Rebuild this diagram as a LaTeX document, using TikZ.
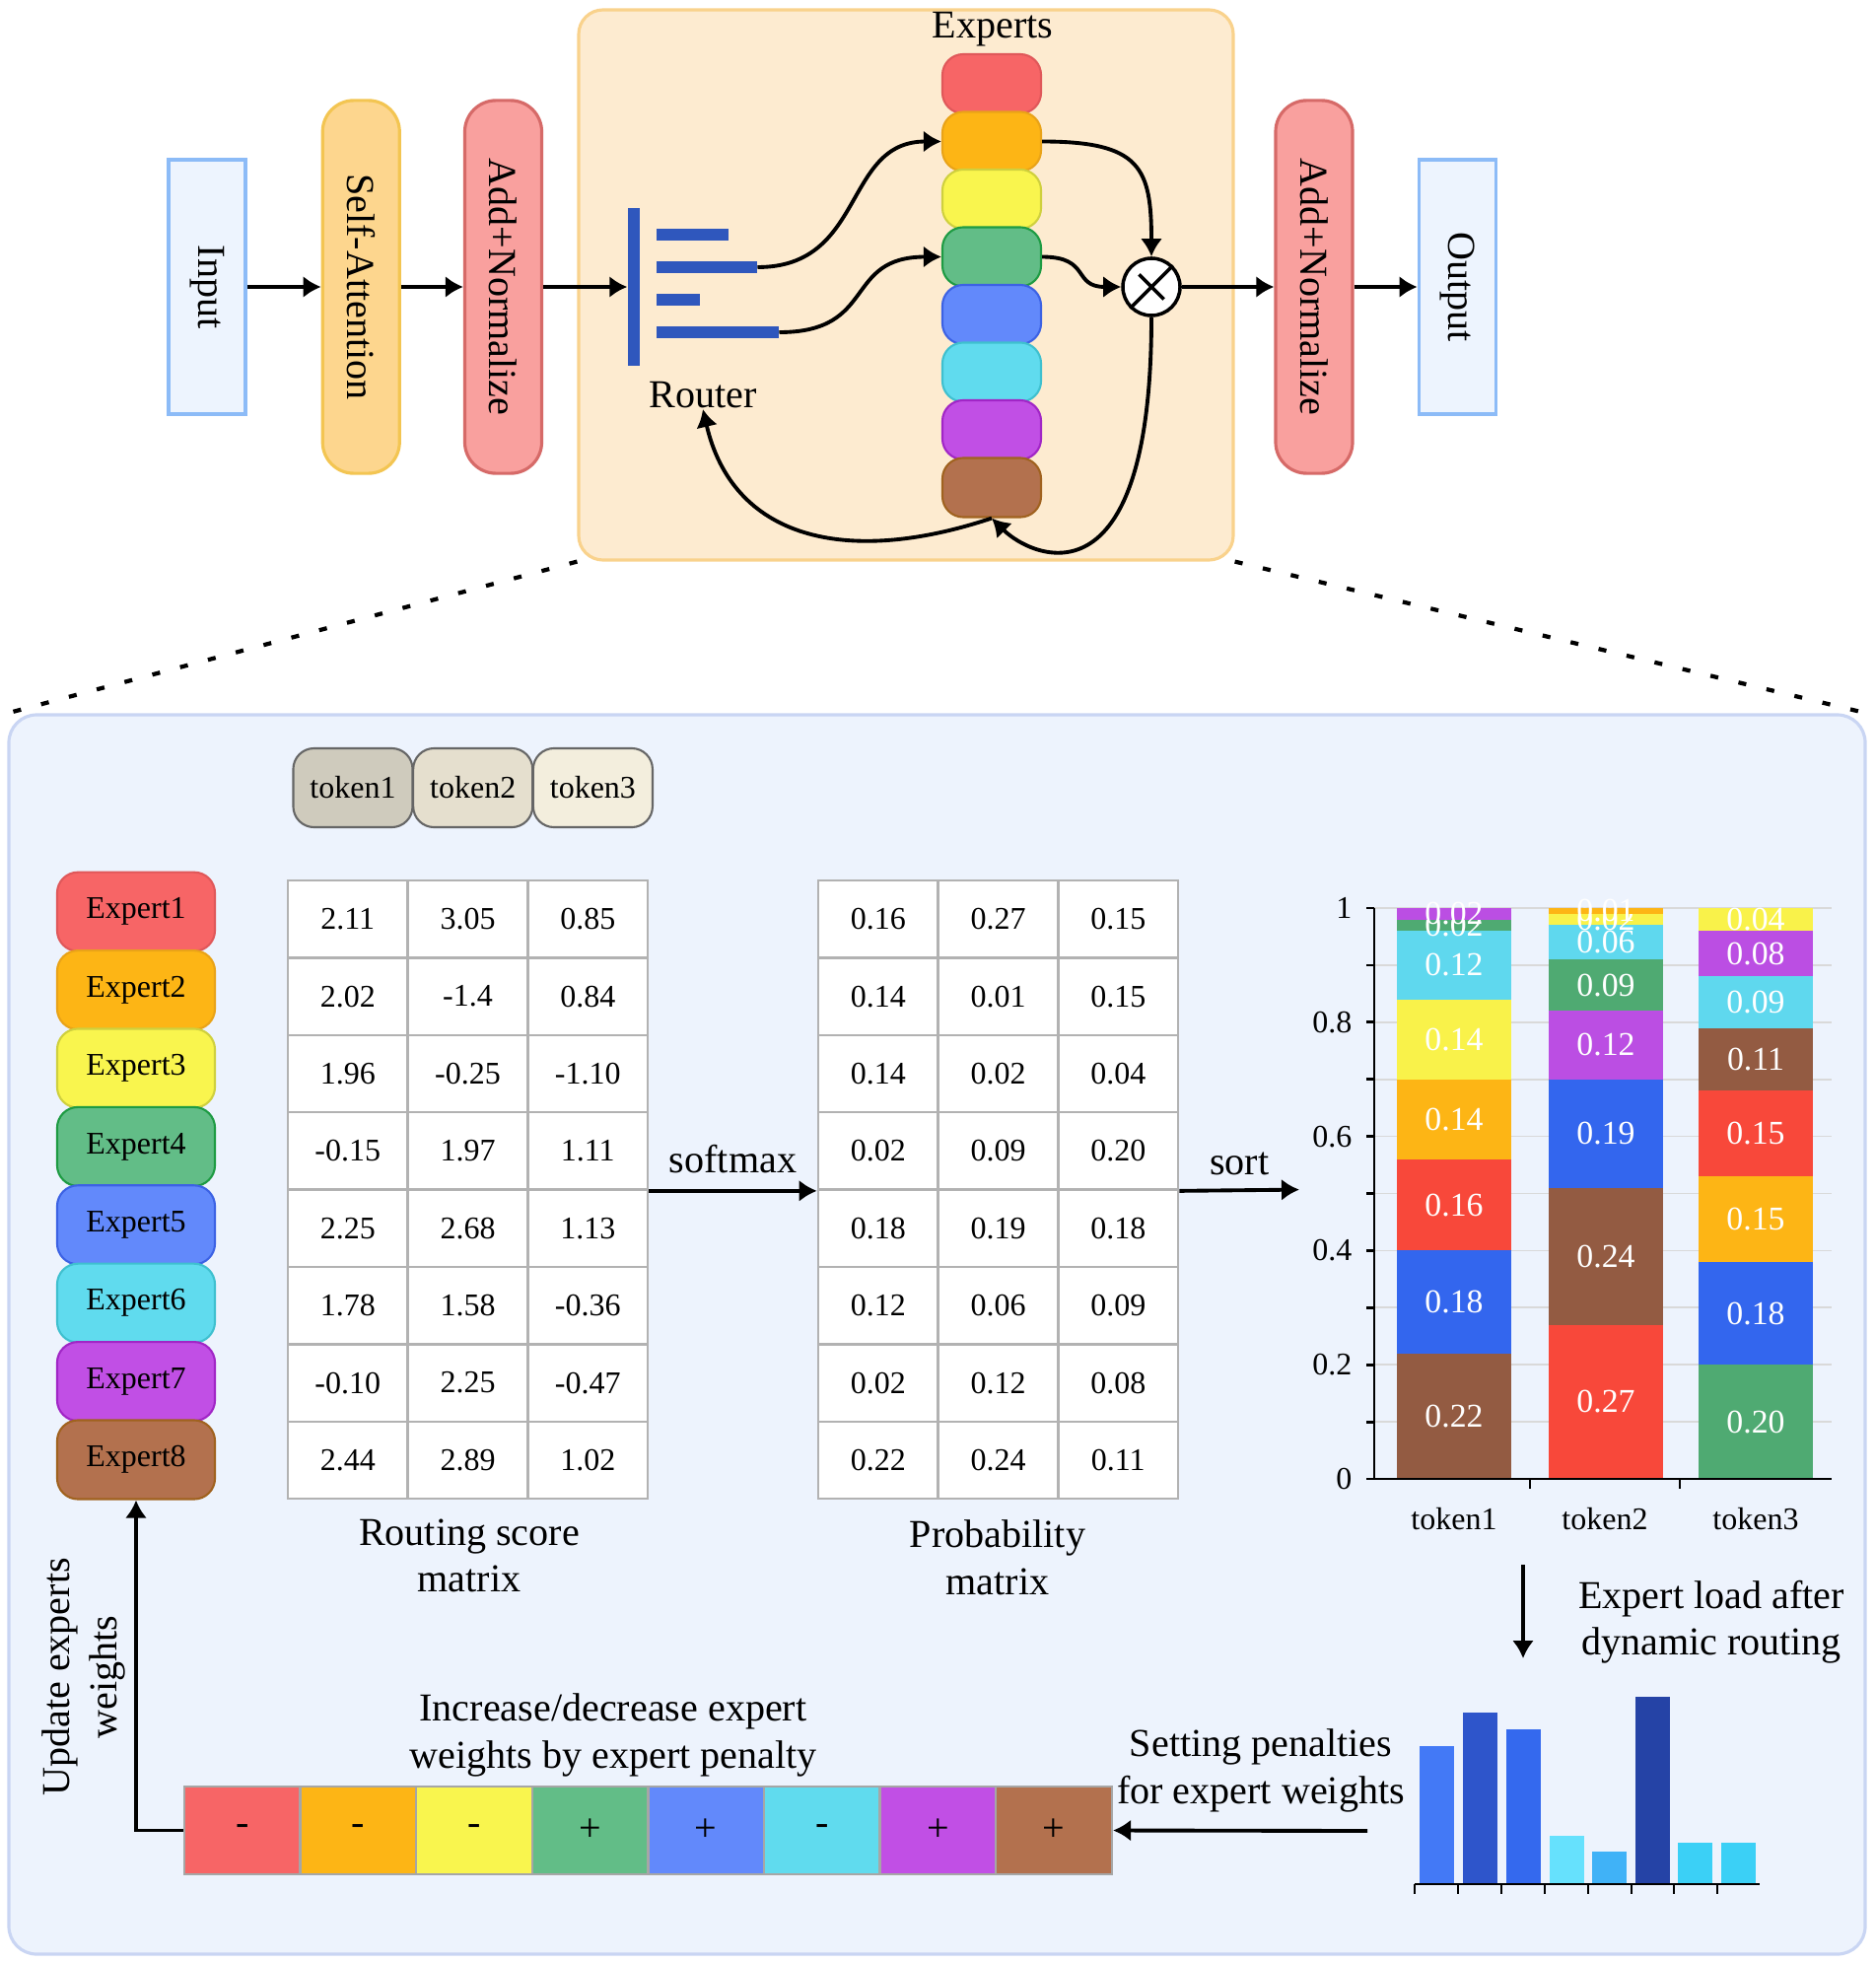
\documentclass[tikz,border=0pt]{standalone}
\usepackage{fontspec}
\setmainfont{Liberation Serif}
\usepackage{xcolor}
\usepackage{tikz}
\usetikzlibrary{arrows.meta, positioning, fit}

\definecolor{inblue}{HTML}{EDF4FE}
\definecolor{inedge}{HTML}{8CBBF7}
\definecolor{safill}{HTML}{FDD68E}
\definecolor{saedge}{HTML}{F3C552}
\definecolor{anfill}{HTML}{F9A09E}
\definecolor{anedge}{HTML}{D66A68}
\definecolor{moefill}{HTML}{FDEBD0}
\definecolor{moeedge}{HTML}{F9D28C}
\definecolor{panelfill}{HTML}{EDF3FD}
\definecolor{paneledge}{HTML}{C9D5F3}
\definecolor{routerblue}{HTML}{2F57BD}
\definecolor{gridgray}{HTML}{D9D9D9}
% expert colours
\definecolor{ex1}{HTML}{F76566} \definecolor{exline1}{HTML}{E0585A}
\definecolor{ex2}{HTML}{FDB515} \definecolor{exline2}{HTML}{E9A318}
\definecolor{ex3}{HTML}{F9F54E} \definecolor{exline3}{HTML}{CFD03E}
\definecolor{ex4}{HTML}{62BD87} \definecolor{exline4}{HTML}{1E9B43}
\definecolor{ex5}{HTML}{6289FB} \definecolor{exline5}{HTML}{3C62E4}
\definecolor{ex6}{HTML}{60DBEE} \definecolor{exline6}{HTML}{3FC0CF}
\definecolor{ex7}{HTML}{C14FE5} \definecolor{exline7}{HTML}{A126C6}
\definecolor{ex8}{HTML}{B3714E} \definecolor{exline8}{HTML}{A0621F}
% chart colours
\definecolor{cbrown}{HTML}{935B42}
\definecolor{cblue}{HTML}{3366EE}
\definecolor{cred}{HTML}{F8483A}
\definecolor{corange}{HTML}{FDB515}
\definecolor{cyellow}{HTML}{F9F24A}
\definecolor{ccyan}{HTML}{5FD8EE}
\definecolor{cgreen}{HTML}{4FAA72}
\definecolor{cpurple}{HTML}{BB4EE3}
\definecolor{lb1}{HTML}{4379F6}
\definecolor{lb2}{HTML}{2E55CB}
\definecolor{lb3}{HTML}{3469EE}
\definecolor{lb4}{HTML}{66E1FD}
\definecolor{lb5}{HTML}{40B2F7}
\definecolor{lb6}{HTML}{2543A6}
\definecolor{lb7}{HTML}{3BD0F6}
\definecolor{tok1}{HTML}{CFCBBD}
\definecolor{tok2}{HTML}{E5DFCE}
\definecolor{tok3}{HTML}{F3EEDD}

\tikzset{
    base/.style={font=\fontsize{11.4}{13.5}\selectfont, align=center, inner sep=0pt},
    smalltext/.style={font=\fontsize{9.1}{11}\selectfont, align=center, inner sep=0pt},
    flowbox/.style={base, rectangle, line width=0.9pt, minimum width=0.78cm},
    inout/.style={flowbox, fill=inblue, draw=inedge, minimum height=2.58cm},
    sabox/.style={flowbox, rounded corners=9pt, fill=safill, draw=saedge, minimum height=3.78cm},
    anbox/.style={flowbox, rounded corners=9pt, fill=anfill, draw=anedge, minimum height=3.78cm},
    moebox/.style={rectangle, rounded corners=7pt, fill=moefill, draw=moeedge, line width=0.9pt, inner sep=0pt},
    panel/.style={rectangle, rounded corners=8pt, fill=panelfill, draw=paneledge, line width=0.9pt, inner sep=0pt},
    rbar/.style={rectangle, fill=routerblue, inner sep=0pt, minimum height=0.12cm},
    expert/.style={smalltext, rectangle, rounded corners=6pt, line width=0.6pt},
    token/.style={smalltext, rectangle, rounded corners=6pt, draw=gray!80!black, line width=0.6pt, minimum width=1.21cm, minimum height=0.8cm},
    cell/.style={smalltext, draw=gray!60, fill=white, line width=0.7pt, minimum width=1.217cm, minimum height=0.784cm},
    pencell/.style={base, draw=gray!70, line width=0.7pt, minimum width=1.176cm, minimum height=0.89cm},
    mulnode/.style={circle, draw=black, line width=1pt, fill=white, minimum size=0.58cm, inner sep=0pt},
    line/.style={draw=black, line width=1.1pt, -{Latex[length=1.8mm, width=2.2mm]}},
    zoom-line/.style={draw=black, line width=1.2pt, dash pattern=on 2.3pt off 6pt},
    axisline/.style={draw=black, line width=0.8pt},
    gridline/.style={draw=gridgray, line width=0.5pt}
}

\begin{document}
\begin{tikzpicture}[x=0.01cm, y=-0.01cm]
    \useasboundingbox (0,0) rectangle (1902,1991);

    % backgrounds
    \node [panel, fit={(9,725) (1892,1982)}] (panel) {};
    \node [moebox, fit={(587,10) (1251,568)}] (moe) {};
    \draw [zoom-line] (moe.south west) -- (panel.north west);
    \draw [zoom-line] (moe.south east) -- (panel.north east);

    % transformer block
    \node [inout] (in) at (210,291) {\rotatebox{-90}{Input}};
    \node [sabox, right=0.75cm of in] (sa) {\rotatebox{-90}{Self-Attention}};
    \node [anbox, right=0.63cm of sa] (an1) {\rotatebox{-90}{Add+Normalize}};

    % router
    \node [rbar, minimum width=0.12cm, minimum height=1.59cm] (rvert) at (643,291) {};
    \node [rbar, anchor=west, minimum width=0.73cm] (rb1) at (665,238) {};
    \node [rbar, anchor=west, minimum width=1.02cm] (rb2) at (665,271) {};
    \node [rbar, anchor=west, minimum width=0.44cm] (rb3) at (665,304) {};
    \node [rbar, anchor=west, minimum width=1.24cm] (rb4) at (665,337) {};
    \node [base] (rlabel) at (713,401) {Router};

    % experts
    \node [base] (explabel) at (1007,30) {Experts};
    \foreach \k in {1,...,8}
        \node [expert, fill=ex\k, draw=exline\k, minimum width=1cm, minimum height=0.6cm] (e\k) at (1006,{85+58.5*(\k-1)}) {};
    \node [mulnode] (mul) at (1168,291) {};
    \draw [line width=1pt, shorten <=0.13cm, shorten >=0.13cm] (mul.45) -- (mul.225) (mul.135) -- (mul.315);

    \node [anbox] (an2) at (1333,291) {\rotatebox{-90}{Add+Normalize}};
    \node [inout, right=0.64cm of an2] (out) {\rotatebox{-90}{Output}};

    \draw [line] (in.east) -- (sa.west);
    \draw [line] (sa.east) -- (an1.west);
    \draw [line] (an1.east) -- (rvert.west);
    \draw [line] (rb2.east) .. controls +(110,0) and +(-100,0) .. (e2.west);
    \draw [line] (rb4.east) .. controls +(100,0) and +(-100,0) .. (e4.west);
    \draw [line] (e2.east) .. controls +(100,0) and +(0,-90) .. (mul.north);
    \draw [line] (e4.east) .. controls +(50,0) and +(-50,0) .. (mul.west);
    \draw [line] (mul.east) -- (an2.west);
    \draw [line] (an2.east) -- (out.west);
    \draw [line] (mul.south) .. controls +(0,300) and +(40,40) .. (e8.south);
    \draw [line] (e8.south) .. controls +(-150,50) and +(30,130) .. (rlabel.south);

    % tokens, experts and the two matrices
    \foreach \t in {1,2,3}
        \node [token, fill=tok\t] (tk\t) at ({358+121.7*(\t-1)},799) {token\t};
    \foreach \r/\ra/\rb/\rc/\pa/\pb/\pc in {
        1/2.11/3.05/0.85/0.16/0.27/0.15,
        2/2.02/-1.4/0.84/0.14/0.01/0.15,
        3/1.96/-0.25/-1.10/0.14/0.02/0.04,
        4/-0.15/1.97/1.11/0.02/0.09/0.20,
        5/2.25/2.68/1.13/0.18/0.19/0.18,
        6/1.78/1.58/-0.36/0.12/0.06/0.09,
        7/-0.10/2.25/-0.47/0.02/0.12/0.08,
        8/2.44/2.89/1.02/0.22/0.24/0.11}{
        \node [expert, fill=ex\r, draw=exline\r, minimum width=1.6cm, minimum height=0.8cm] (el\r) at (138,{924.7+79.4*(\r-1)}) {Expert\r};
        \node [cell] (rs\r-1) at (352.8,{932.2+78.4*(\r-1)}) {\ra};
        \node [cell] (rs\r-2) at (474.5,{932.2+78.4*(\r-1)}) {\rb};
        \node [cell] (rs\r-3) at (596.3,{932.2+78.4*(\r-1)}) {\rc};
        \node [cell] (pm\r-1) at (890.8,{932.2+78.4*(\r-1)}) {\pa};
        \node [cell] (pm\r-2) at (1012.5,{932.2+78.4*(\r-1)}) {\pb};
        \node [cell] (pm\r-3) at (1134.3,{932.2+78.4*(\r-1)}) {\pc};
    }
    \node [base] (rslabel) at (476,1578) {Routing score\\matrix};
    \node [base] (pmlabel) at (1012,1580) {Probability\\matrix};

    \coordinate (sortend) at (1318,1206.6);
    \draw [line] (rs4-3.south east) -- node [base, above=0.16cm] (smlabel) {softmax} (pm4-1.south west);
    \draw [line] (pm4-3.south east) -- node [base, above=0.13cm] (sortlabel) {sort} (sortend);

    % stacked chart
    \foreach \g in {1,...,10}
        \draw [gridline] (1394,{1500-57.9*\g}) -- (1858,{1500-57.9*\g});
    \foreach \xa/\vals [count=\t] in {
        1417/{cbrown/0/0.22, cblue/0.22/0.18, cred/0.40/0.16, corange/0.56/0.14, cyellow/0.70/0.14, ccyan/0.84/0.12, cgreen/0.96/0.02, cpurple/0.98/0.02},
        1571/{cred/0/0.27, cbrown/0.27/0.24, cblue/0.51/0.19, cpurple/0.70/0.12, cgreen/0.82/0.09, ccyan/0.91/0.06, cyellow/0.97/0.02, corange/0.99/0.01},
        1723/{cgreen/0/0.20, cblue/0.20/0.18, corange/0.38/0.15, cred/0.53/0.15, cbrown/0.68/0.11, ccyan/0.79/0.09, cpurple/0.88/0.08, cyellow/0.96/0.04}}{
        \foreach \c/\b/\v [count=\i] in \vals {
            \fill [\c] (\xa,{1500-579*\b}) rectangle ({\xa+116},{1500-579*(\b+\v)});
            \node [smalltext, text=white, font=\fontsize{9.6}{11}\selectfont] (bv\t-\i) at ({\xa+58},{1500-579*(\b+\v/2)}) {\v};
        }
    }
    \draw [axisline] (1394,921) -- (1394,1500);
    \draw [axisline] (1386,1500) -- (1858,1500);
    \foreach \g in {1,...,10}
        \draw [axisline] (1386,{1500-57.9*\g}) -- (1394,{1500-57.9*\g});
    \foreach \tx in {1552,1704}
        \draw [axisline] (\tx,1500) -- (\tx,1510);
    \foreach \g [count=\i] in {0,0.2,0.4,0.6,0.8,1}
        \node [smalltext, anchor=east] (yt\i) at (1372,{1500-579*\g}) {\g};
    \foreach \tx [count=\i] in {1475,1628,1781}
        \node [smalltext] (ct\i) at (\tx,1541) {token\i};

    % expert load
    \coordinate (loadtop) at (1545,1587);
    \coordinate (loadbot) at (1545,1682);
    \draw [line] (loadtop) -- (loadbot);
    \node [base] (loadlabel) at (1736,1645) {Expert load after\\dynamic routing};
    \foreach \x/\h/\c in {1440/1771/lb1, 1484/1737/lb2, 1528/1754/lb3, 1572/1862/lb4, 1615/1878/lb5, 1659/1721/lb6, 1702/1869/lb7, 1746/1869/lb7}
        \fill [\c] (\x,1911) rectangle ({\x+35},\h);
    \draw [axisline] (1435,1911) -- (1785,1911);
    \foreach \tx in {1435,1479,1523,1567,1611,1655,1698,1742}
        \draw [axisline] (\tx,1911) -- (\tx,1921);

    % penalties
    \node [base] (setlabel) at (1279,1796) {Setting penalties\\for expert weights};
    \foreach \s [count=\k] in {-,-,-,+,+,-,+,+}
        \node [pencell, fill=ex\k] (pen\k) at ({187+117.6*(\k-0.5)},1856.5) {\s};
    \node [base] (inclabel) at (622,1760) {Increase/decrease expert\\weights by expert penalty};
    \coordinate (penstart) at (1387,1857);
    \draw [line] (penstart) -- (pen8.east);
    \draw [line] (pen1.west) -| (el8.south);
    \node [base, rotate=90] (updlabel) at (85,1701) {Update experts\\weights};
\end{tikzpicture}
\end{document}
